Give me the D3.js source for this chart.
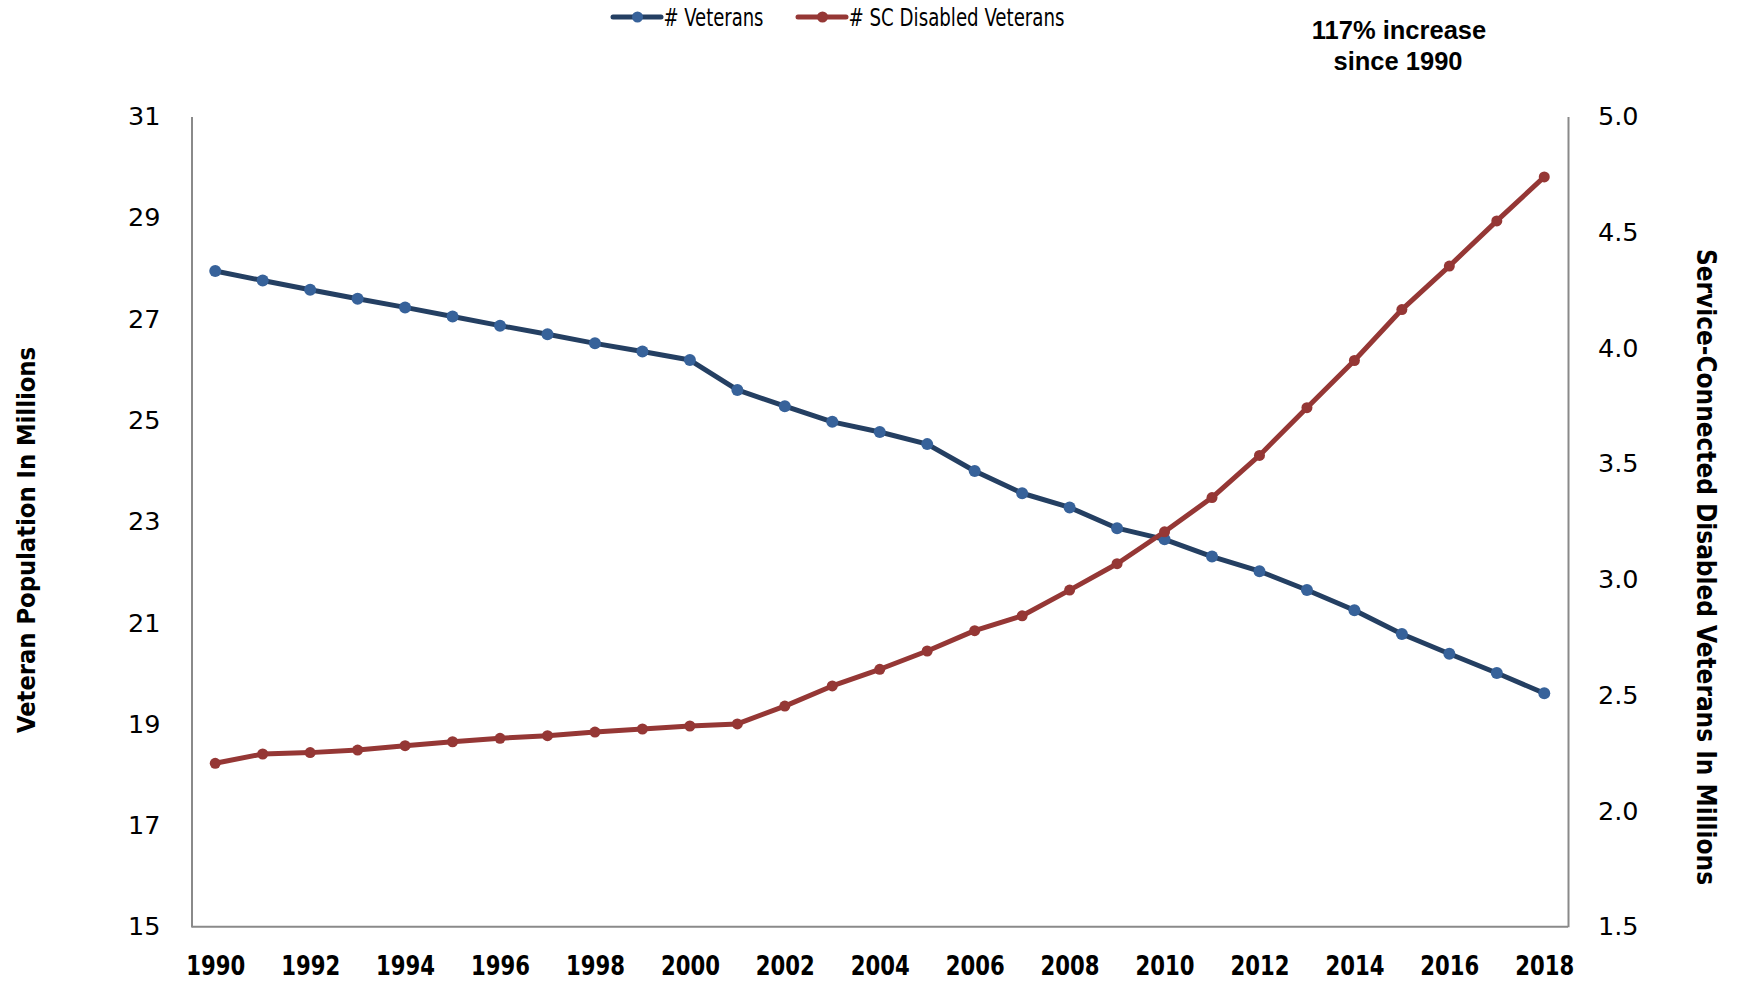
<!DOCTYPE html>
<meta charset="utf-8">
<style>
    body { margin: 0; background: #fff; }
    .container { width: 1738px; height: 983px; }
    .tick text { font-family: "DejaVu Sans", Verdana, sans-serif; fill: #000; }
</style>
<body>
<div class="container"></div>
<script src="https://cdnjs.cloudflare.com/ajax/libs/d3/7.8.5/d3.min.js"></script>
<script>

// data
const years = [1990, 1991, 1992, 1993, 1994, 1995, 1996, 1997, 1998, 1999,
               2000, 2001, 2002, 2003, 2004, 2005, 2006, 2007, 2008, 2009,
               2010, 2011, 2012, 2013, 2014, 2015, 2016, 2017, 2018];
const veterans = [27.95, 27.76, 27.58, 27.40, 27.23, 27.05, 26.87, 26.70, 26.52, 26.36,
                  26.19, 25.60, 25.28, 24.97, 24.77, 24.53, 24.00, 23.56, 23.28, 22.87,
                  22.65, 22.31, 22.02, 21.65, 21.25, 20.78, 20.39, 20.01, 19.61];
const scDisabled = [2.206, 2.246, 2.252, 2.263, 2.282, 2.299, 2.314, 2.325, 2.341, 2.354,
                    2.367, 2.376, 2.453, 2.540, 2.612, 2.691, 2.779, 2.843, 2.954, 3.068,
                    3.206, 3.354, 3.536, 3.742, 3.946, 4.166, 4.354, 4.549, 4.739];
const leftTicks = [15, 17, 19, 21, 23, 25, 27, 29, 31];
const rightTicks = [1.5, 2.0, 2.5, 3.0, 3.5, 4.0, 4.5, 5.0];
const xTickYears = [1990, 1992, 1994, 1996, 1998, 2000, 2002, 2004, 2006, 2008,
                    2010, 2012, 2014, 2016, 2018];
const seriesNames = ['# Veterans', '# SC Disabled Veterans'];

const width = 1738;
const height = 983;
const plot = { left: 191.5, right: 1568, top: 116.5, bottom: 926.7 };

const svg = d3.select('.container')
    .append('svg')
    .attr('width', width)
    .attr('height', height)
    .attr('viewBox', `0 0 ${width} ${height}`);

const x = d3.scalePoint().domain(years).range([plot.left, plot.right]).padding(0.5);
const yLeft = d3.scaleLinear().domain([15, 31]).range([plot.bottom, plot.top]);
const yRight = d3.scaleLinear().domain([1.5, 5]).range([plot.bottom, plot.top]);

const axisColor = '#8a8a8a';

// left axis
const gl = svg.append('g')
    .attr('transform', `translate(${plot.left},0)`)
    .call(d3.axisLeft(yLeft).tickValues(leftTicks).tickSize(0).tickPadding(31).tickFormat(d3.format('d')));
gl.select('.domain').attr('stroke', axisColor).attr('stroke-width', 2);
gl.selectAll('.tick text').style('font-size', '25.5px');

// right axis
const gr = svg.append('g')
    .attr('transform', `translate(${plot.right},0)`)
    .call(d3.axisRight(yRight).tickValues(rightTicks).tickSize(0).tickPadding(30).tickFormat(d3.format('.1f')));
gr.select('.domain').attr('stroke', axisColor).attr('stroke-width', 2);
gr.selectAll('.tick text').style('font-size', '25.5px');

// bottom axis
const gb = svg.append('g')
    .attr('transform', `translate(0,${plot.bottom})`)
    .call(d3.axisBottom(x).tickValues(xTickYears).tickSize(0));
gb.select('.domain').attr('stroke', axisColor).attr('stroke-width', 2)
    .attr('d', `M${plot.left},0H${plot.right}`);
gb.selectAll('.tick text')
    .attr('y', 48.5)
    .attr('dy', null)
    .style('font-size', '26.5px')
    .style('font-weight', 'bold')
    .style('font-stretch', 'condensed')
    .attr('textLength', 59)
    .attr('lengthAdjust', 'spacingAndGlyphs');

// lines
const series = [
    { name: seriesNames[0], values: veterans, scale: yLeft, line: '#243f62', dot: '#37629a', r: 6 },
    { name: seriesNames[1], values: scDisabled, scale: yRight, line: '#953735', dot: '#953735', r: 5.5 }
];

series.forEach(s => {
    const line = d3.line()
        .x((d, i) => x(years[i]))
        .y(d => s.scale(d));

    svg.append('path')
        .datum(s.values)
        .attr('fill', 'none')
        .attr('stroke', s.line)
        .attr('stroke-width', 5)
        .attr('stroke-linejoin', 'round')
        .attr('d', line);

    svg.selectAll(null)
        .data(s.values)
        .enter()
        .append('circle')
        .attr('cx', (d, i) => x(years[i]))
        .attr('cy', d => s.scale(d))
        .attr('r', s.r)
        .attr('fill', s.dot);
});

// legend
const legendItems = [
    { x0: 613, text: seriesNames[0], len: 100, s: series[0] },
    { x0: 798, text: seriesNames[1], len: 216, s: series[1] }
];
legendItems.forEach(l => {
    const g = svg.append('g').attr('transform', `translate(${l.x0},17)`);
    g.append('line').attr('x1', 0).attr('x2', 48).attr('y1', 0).attr('y2', 0)
        .attr('stroke', l.s.line).attr('stroke-width', 5).attr('stroke-linecap', 'round');
    g.append('circle').attr('cx', 24.5).attr('cy', 0).attr('r', 5.5).attr('fill', l.s.dot);
    g.append('text')
        .attr('x', 50.5).attr('y', 8.5)
        .attr('textLength', l.len).attr('lengthAdjust', 'spacingAndGlyphs')
        .style('font-family', '"DejaVu Sans", sans-serif')
        .style('font-stretch', 'condensed')
        .style('font-size', '24px')
        .text(l.text);
});

// annotation
const note = svg.append('text')
    .attr('text-anchor', 'middle')
    .style('font-family', '"Liberation Sans", Arial, sans-serif')
    .style('font-weight', 'bold')
    .style('font-size', '25.5px');
note.append('tspan').attr('x', 1399).attr('y', 38.5).text('117% increase');
note.append('tspan').attr('x', 1398).attr('y', 69.5).text('since 1990');

// axis titles
svg.append('text')
    .attr('transform', 'translate(35,540) rotate(-90)')
    .attr('text-anchor', 'middle')
    .attr('textLength', 386).attr('lengthAdjust', 'spacingAndGlyphs')
    .style('font-family', '"DejaVu Sans", sans-serif')
    .style('font-weight', 'bold')
    .style('font-stretch', 'condensed')
    .style('font-size', '25px')
    .text('Veteran Population In Millions');

svg.append('text')
    .attr('transform', 'translate(1697,567) rotate(90)')
    .attr('text-anchor', 'middle')
    .attr('textLength', 636).attr('lengthAdjust', 'spacingAndGlyphs')
    .style('font-family', '"DejaVu Sans", sans-serif')
    .style('font-weight', 'bold')
    .style('font-stretch', 'condensed')
    .style('font-size', '26px')
    .text('Service-Connected Disabled Veterans In Millions');

</script>
</body>
